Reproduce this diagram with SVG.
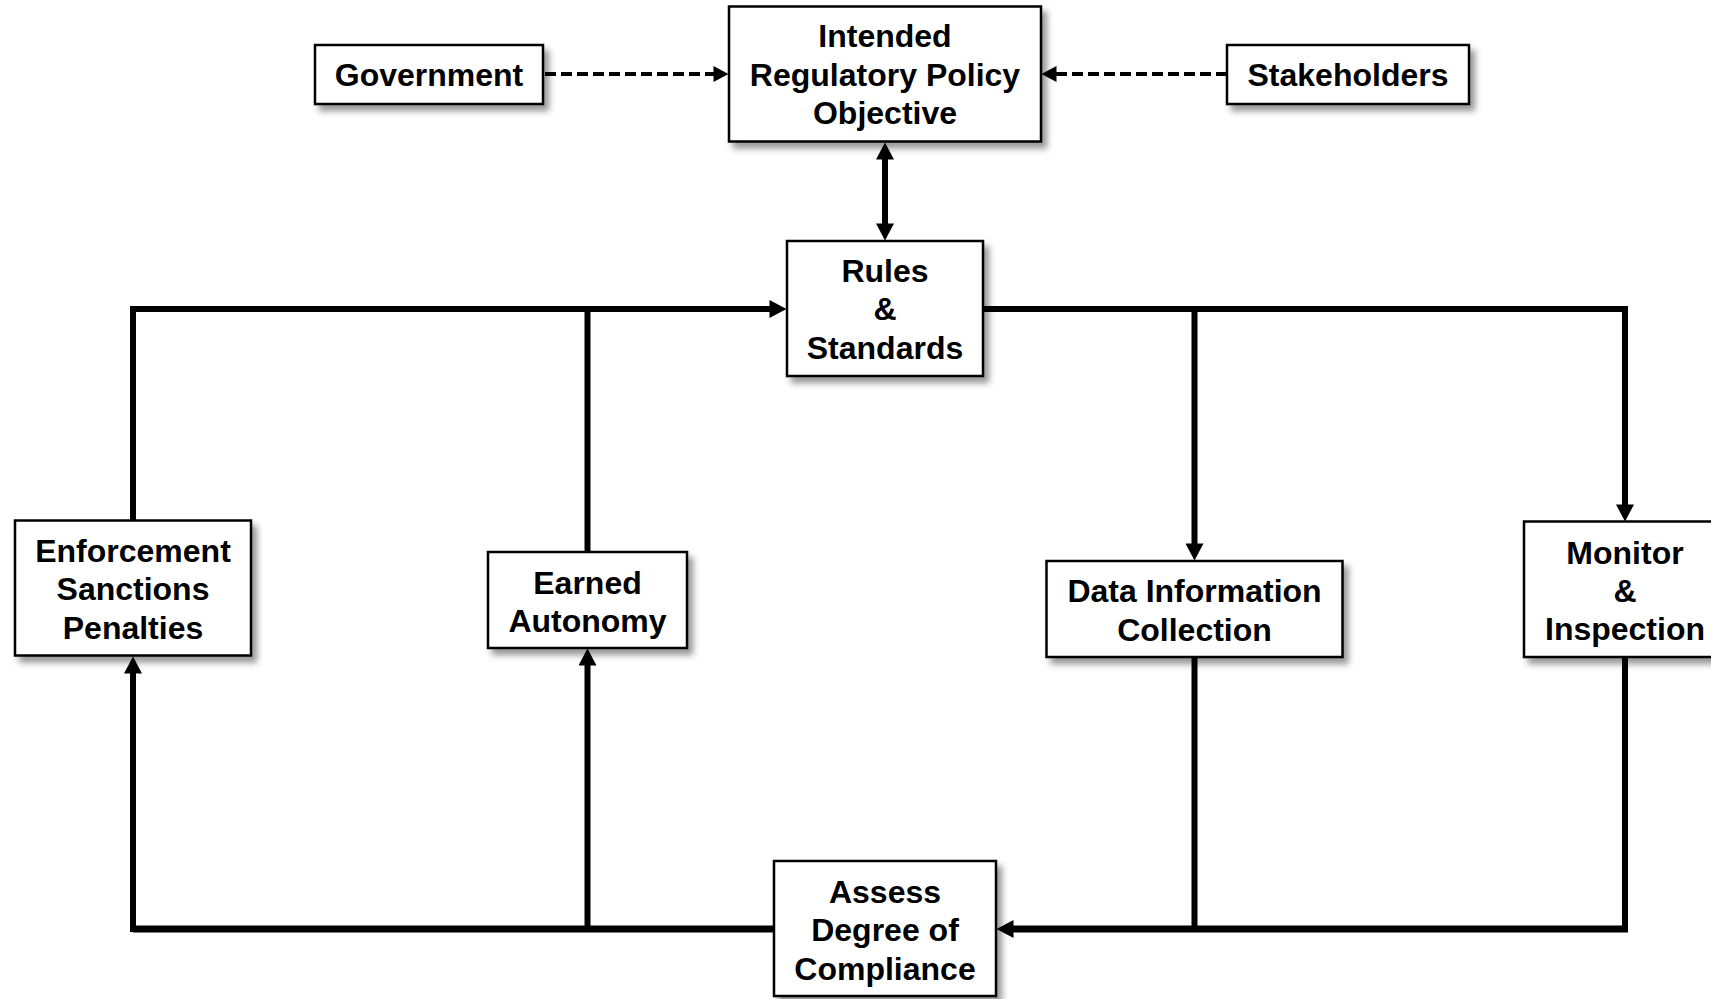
<svg xmlns="http://www.w3.org/2000/svg" width="1711" height="999" viewBox="0 0 1711 999">
<defs>
<style>
.box{fill:#fff;stroke:#000;stroke-width:2.5;filter:url(#sh)}
.t{font-family:"Liberation Sans",Arial,sans-serif;font-weight:bold;font-size:32px;text-anchor:middle;fill:#000}
.ln{fill:none;stroke:#000;stroke-width:6;stroke-linejoin:miter}
.bl{fill:none;stroke:#000;stroke-width:7}
.ds{fill:none;stroke:#000;stroke-width:4;stroke-dasharray:11 5}
</style>
<filter id="sh" x="-10%" y="-10%" width="130%" height="140%">
<feDropShadow dx="5" dy="6" stdDeviation="3" flood-color="#000" flood-opacity="0.4"/>
</filter>
<marker id="a" markerUnits="userSpaceOnUse" markerWidth="18" markerHeight="18" viewBox="0 0 17 18" refX="0.5" refY="9" orient="auto-start-reverse">
<path d="M0,0 L17,9 L0,18 z" fill="#000"/>
</marker>
<marker id="d" markerUnits="userSpaceOnUse" markerWidth="16" markerHeight="16" viewBox="0 0 15 16" refX="0.5" refY="8" orient="auto-start-reverse">
<path d="M0,0 L15,8 L0,16 z" fill="#000"/>
</marker>
</defs>
<rect width="1711" height="999" fill="#fff"/>
<g id="connectors">
<path class="ds" d="M545,74 H714" marker-end="url(#d)"/>
<path class="ds" d="M1227,74 H1056" marker-end="url(#d)"/>
<path class="ln" d="M885,159 V224" marker-start="url(#a)" marker-end="url(#a)"/>
<path class="ln" d="M133,520 V309 H770" marker-end="url(#a)"/>
<path class="ln" d="M587.5,552 V309"/>
<path class="ln" d="M983,309 H1625 V505" marker-end="url(#a)"/>
<path class="ln" d="M1194.5,309 V544" marker-end="url(#a)"/>
<path class="bl" d="M774,929 H133"/>
<path class="ln" d="M133,932 V673" marker-end="url(#a)"/>
<path class="ln" d="M587.5,929 V665" marker-end="url(#a)"/>
<path class="ln" d="M1625,657 V929"/>
<path class="bl" d="M1628,929 H1013" marker-end="url(#a)"/>
<path class="ln" d="M1194.5,657 V929"/>
</g>
<g id="government"><rect class="box" x="315" y="45" width="228" height="59"/><text class="t" x="429" y="86">Government</text></g>
<g id="objective"><rect class="box" x="729" y="6.5" width="312" height="135"/><text class="t" x="885" y="47">Intended</text><text class="t" x="885" y="85.5">Regulatory Policy</text><text class="t" x="885" y="124">Objective</text></g>
<g id="stakeholders"><rect class="box" x="1227" y="45" width="242" height="59"/><text class="t" x="1348" y="86">Stakeholders</text></g>
<g id="rules"><rect class="box" x="787" y="241" width="196" height="135"/><text class="t" x="885" y="282">Rules</text><text class="t" x="885" y="320">&amp;</text><text class="t" x="885" y="358.5">Standards</text></g>
<g id="enforcement"><rect class="box" x="15" y="520.5" width="236" height="135"/><text class="t" x="133" y="561.5">Enforcement</text><text class="t" x="133" y="600">Sanctions</text><text class="t" x="133" y="638.5">Penalties</text></g>
<g id="earned"><rect class="box" x="488" y="552" width="199" height="96"/><text class="t" x="587.5" y="594">Earned</text><text class="t" x="587.5" y="632">Autonomy</text></g>
<g id="data"><rect class="box" x="1046.5" y="561" width="296" height="96"/><text class="t" x="1194.5" y="602">Data Information</text><text class="t" x="1194.5" y="641">Collection</text></g>
<g id="monitor"><rect class="box" x="1524" y="521.5" width="210" height="135.5"/><text class="t" x="1625" y="563.5">Monitor</text><text class="t" x="1625" y="602">&amp;</text><text class="t" x="1625" y="640">Inspection</text></g>
<g id="assess"><rect class="box" x="774" y="861" width="222" height="135"/><text class="t" x="885" y="903">Assess</text><text class="t" x="885" y="941">Degree of</text><text class="t" x="885" y="979.5">Compliance</text></g>
</svg>
